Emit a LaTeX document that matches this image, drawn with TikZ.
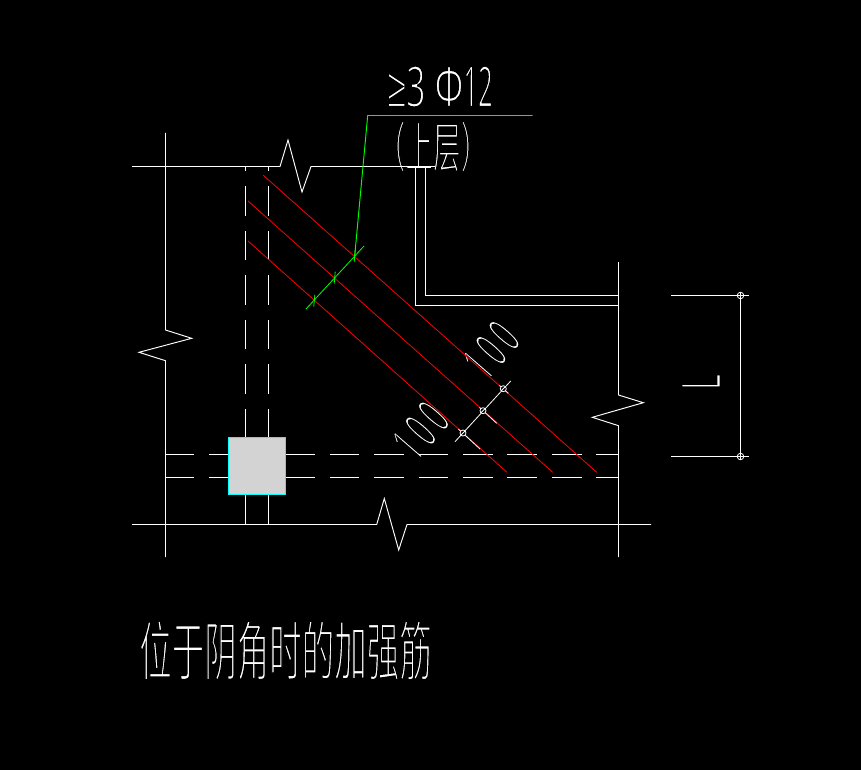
\documentclass[tikz,border=0pt]{standalone}
\usepackage{fontspec}
\setmainfont{Noto Sans}
\newfontfamily\cjk{Noto Sans CJK SC}
\newfontfamily\symf{Liberation Sans}
\definecolor{rebar}{RGB}{255,0,0}
\definecolor{leader}{RGB}{0,255,0}
\definecolor{column}{RGB}{211,211,211}
\definecolor{edge}{RGB}{0,255,255}
% thin single-line CAD look: real text whose outline is eroded with a black stroke
\newcommand{\thin}[2]{\special{pdf:code q 2 Tr #1 w 0 0 0 RG}#2\special{pdf:code Q}}
\tikzset{
  wall/.style={white,line width=0.95pt},
  bar/.style={rebar,line width=0.8pt},
  lead/.style={leader,line width=0.95pt},
  tickg/.style={leader,line width=0.8pt},
  dim/.style={white,line width=0.8pt},
  pin/.style={circle,draw=white,line width=0.8pt,inner sep=0pt,minimum size=6.5pt,fill=black},
  cad/.style={text=white,inner sep=0pt,anchor=center},
}
\begin{document}
\begin{tikzpicture}[x=1pt,y=-1pt]
\fill[black] (0,0) rectangle (861,770);
\useasboundingbox (0,0) rectangle (861,770);
% texts
\node[cad,anchor=west] (qty) at (387,86.5) {\fontsize{57}{57}\selectfont\scalebox{0.6}[1]{\thin{2}{{\symf ≥}3\kern15ptΦ}}\scalebox{0.45}[1]{\thin{2}{12}}};
\node[cad] (layer) at (433,146.5) {\fontsize{55}{55}\cjk\scalebox{0.5}[1]{\thin{2}{（上层）}}};
\node[cad] (title) at (285.5,650.5) {\fontsize{65}{65}\cjk\scalebox{0.5}[1]{\thin{2.3}{位于阴角时的加强筋}}};
\node[cad,rotate=49] (d1) at (491,350) {\fontsize{52}{52}\selectfont\scalebox{0.5}[1]{\thin{2.2}{1\kern10pt0\kern10pt0}}};
\node[cad,rotate=49] (d2) at (420.5,430.5) {\fontsize{52}{52}\selectfont\scalebox{0.5}[1]{\thin{2.2}{1\kern10pt0\kern10pt0}}};
\node[cad,rotate=90] (dL) at (701,382) {\fontsize{55}{55}\selectfont\scalebox{0.55}[1]{\thin{2.2}{L}}};
% walls
\draw[wall] (132,166.5) -- (280,166.5) -- (288,140) -- (302,192) -- (311,166.5) -- (435,166.5);
\draw[wall] (132,524.5) -- (376.7,524.5) -- (384.3,498.5) -- (398.7,550) -- (407,524.5) -- (651,524.5);
\draw[wall] (165.5,133) -- (165.5,330) -- (191.7,338.3) -- (139,352.3) -- (165.5,360.7) -- (165.5,557);
\draw[wall] (618.5,262) -- (618.5,395) -- (643.3,402.7) -- (592.3,417.3) -- (618.5,425.7) -- (618.5,557);
\draw[wall] (415.5,167) -- (415.5,305.5) -- (618.5,305.5);
\draw[wall] (425.5,167) -- (425.5,295.5) -- (618.5,295.5);
% dashed column lines
\foreach \xx in {245.5,268.5}{
  \foreach \a/\b in {166.5/171,186/216,231/260,275/305,320/349,364/394,409/437,494/524.5}
    \draw[wall] (\xx,\a) -- (\xx,\b);
}
% dashed beam lines
\foreach \a/\b in {165.5/194,209/229,286/315,330/359,374/404,419/448,463/493,507/537,552/582,596/618.5}{
  \draw[wall] (\a,454.5) -- (\b,454.5);
  \draw[wall] (\a,477.5) -- (\b,477.5);
}
% column
\node[draw=edge,fill=column,line width=0.95pt,minimum width=57pt,minimum height=57pt,inner sep=0pt] (col) at (257.2,465.8) {};
% rebars
\draw[bar] (263.3,175.3) -- (596.7,472.3);
\draw[bar] (248,201) -- (552.7,472.3);
\draw[bar] (248,241) -- (507,472.3);
% right dimension
\draw[dim] (671,295.5) -- (749,295.5);
\draw[dim] (671,456.5) -- (749,456.5);
\node[pin] (p1) at (740.5,295.5) {};
\node[pin] (p2) at (740.5,456.5) {};
\draw[dim] (p1.north) -- (p2.south);
\draw[dim] (p1.west) -- (p1.east);
\draw[dim] (p2.west) -- (p2.east);
% bar spacing dimension
\coordinate (a0) at (455,441.7);
\coordinate (a4) at (510.7,381);
\draw[dim] (a0) -- (a4);
\coordinate (e1a) at (458.3,429);
\coordinate (e1b) at (480,449);
\coordinate (e2a) at (479.5,407.5);
\coordinate (e2b) at (496.7,423.3);
\coordinate (e3a) at (499.5,385.5);
\coordinate (e3b) at (508.3,393.3);
\draw[dim] (e1a) -- (e1b);
\draw[dim] (e2a) -- (e2b);
\draw[dim] (e3a) -- (e3b);
\node[pin,minimum size=6pt] (c1) at (463,433) {};
\node[pin,minimum size=6pt] (c2) at (483,410.7) {};
\node[pin,minimum size=6pt] (c3) at (503.3,388.7) {};
\draw[dim] (c1.south west) -- (c1.north east);
\draw[dim] (c2.south west) -- (c2.north east);
\draw[dim] (c3.south west) -- (c3.north east);
% leader
\coordinate (g0) at (306,309);
\coordinate (g1) at (314.3,300.7);
\coordinate (g2) at (334.7,277.7);
\coordinate (g3) at (354.7,256);
\coordinate (g4) at (364,246);
\coordinate (g5) at (367.7,115.5);
\coordinate (g6) at (532.7,115.5);
\draw[tickg] (g0) -- (g4);
\foreach \p in {g1,g2,g3}
  \draw[tickg] ([yshift=-6pt,xshift=-0.5pt]\p) -- ([yshift=6pt,xshift=0.5pt]\p);
\draw[lead] (g3) -- (g5) -- (g6);
\end{tikzpicture}
\end{document}
